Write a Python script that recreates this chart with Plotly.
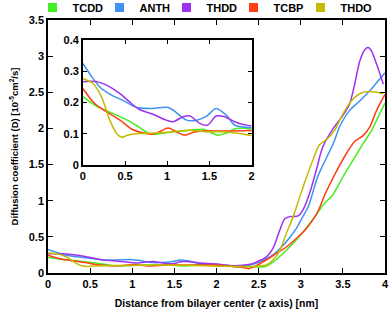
import plotly.graph_objects as go

names = ["TCDD", "ANTH", "THDD", "TCBP", "THDO"]
colors = ["#44ee22", "#3f93f0", "#9d33ee", "#ff3e14", "#c4bb00"]

tcdd_x = [0, 0.16, 0.36, 0.55, 0.67, 0.79, 0.87, 1.07, 1.27, 1.43, 1.50, 1.60, 1.70, 1.82, 2.0, 2.2, 2.4, 2.58, 2.67, 2.79, 2.91, 3.03, 3.15, 3.28, 3.38, 3.50, 3.62, 3.74, 3.84, 3.92, 4.0]
tcdd_y = [0.219, 0.189, 0.165, 0.141, 0.121, 0.101, 0.099, 0.107, 0.112, 0.115, 0.107, 0.096, 0.103, 0.117, 0.115, 0.09, 0.085, 0.09, 0.15, 0.27, 0.41, 0.57, 0.75, 0.96, 1.08, 1.33, 1.56, 1.79, 1.97, 2.16, 2.35]

anth_x = [0, 0.1, 0.2, 0.34, 0.47, 0.63, 0.79, 1.0, 1.07, 1.23, 1.35, 1.46, 1.58, 1.70, 1.80, 1.90, 2.0, 2.2, 2.4, 2.51, 2.67, 2.79, 2.87, 2.95, 3.01, 3.09, 3.2, 3.3, 3.4, 3.46, 3.58, 3.70, 3.82, 3.92, 4.0]
anth_y = [0.325, 0.285, 0.25, 0.224, 0.208, 0.185, 0.181, 0.185, 0.176, 0.144, 0.144, 0.155, 0.181, 0.16, 0.128, 0.122, 0.12, 0.10, 0.11, 0.15, 0.25, 0.38, 0.49, 0.62, 0.75, 0.92, 1.33, 1.58, 1.83, 2.02, 2.25, 2.38, 2.52, 2.66, 2.77]

thdd_x = [0, 0.16, 0.28, 0.44, 0.55, 0.67, 0.83, 0.99, 1.07, 1.19, 1.27, 1.39, 1.48, 1.58, 1.68, 1.80, 1.90, 2.0, 2.2, 2.4, 2.47, 2.59, 2.67, 2.75, 2.81, 2.87, 2.97, 3.03, 3.11, 3.19, 3.26, 3.38, 3.50, 3.58, 3.64, 3.70, 3.76, 3.80, 3.84, 3.90, 3.98]
thdd_y = [0.267, 0.267, 0.256, 0.229, 0.203, 0.178, 0.163, 0.144, 0.139, 0.155, 0.157, 0.133, 0.128, 0.157, 0.155, 0.139, 0.13, 0.125, 0.10, 0.12, 0.15, 0.22, 0.34, 0.59, 0.75, 0.78, 0.79, 0.88, 1.12, 1.45, 1.74, 1.99, 2.18, 2.34, 2.61, 2.93, 3.09, 3.12, 3.07, 2.89, 2.61]

tcbp_x = [0, 0.14, 0.28, 0.44, 0.59, 0.75, 0.83, 0.91, 1.01, 1.11, 1.21, 1.31, 1.46, 1.66, 1.86, 2.0, 2.2, 2.3, 2.38, 2.45, 2.59, 2.71, 2.83, 2.95, 3.07, 3.19, 3.30, 3.42, 3.54, 3.64, 3.74, 3.82, 3.90, 4.0]
tcbp_y = [0.245, 0.197, 0.171, 0.144, 0.114, 0.101, 0.099, 0.107, 0.119, 0.107, 0.096, 0.105, 0.11, 0.109, 0.11, 0.11, 0.09, 0.08, 0.06, 0.09, 0.18, 0.27, 0.36, 0.48, 0.62, 0.82, 1.12, 1.40, 1.65, 1.82, 1.90, 2.02, 2.25, 2.47]

thdo_x = [0, 0.12, 0.22, 0.32, 0.40, 0.46, 0.53, 0.67, 0.87, 1.07, 1.27, 1.46, 1.66, 1.86, 2.0, 2.2, 2.4, 2.59, 2.67, 2.75, 2.83, 2.91, 2.99, 3.07, 3.15, 3.22, 3.32, 3.40, 3.50, 3.60, 3.70, 3.80, 3.90, 3.98]
thdo_y = [0.277, 0.261, 0.219, 0.144, 0.101, 0.089, 0.096, 0.101, 0.103, 0.107, 0.112, 0.107, 0.107, 0.101, 0.095, 0.09, 0.09, 0.11, 0.18, 0.31, 0.55, 0.78, 1.06, 1.33, 1.58, 1.77, 1.86, 1.97, 2.20, 2.38, 2.48, 2.51, 2.50, 2.48]

xs = [tcdd_x, anth_x, thdd_x, tcbp_x, thdo_x]
ys = [tcdd_y, anth_y, thdd_y, tcbp_y, thdo_y]

main_xticks = [0, 0.5, 1, 1.5, 2, 2.5, 3, 3.5, 4]
main_yticks = [0, 0.5, 1, 1.5, 2, 2.5, 3, 3.5]
inset_xticks = [0, 0.5, 1, 1.5, 2]
inset_yticks = [0, 0.1, 0.2, 0.3, 0.4]

FONT = "Liberation Sans"
fig = go.Figure()

for n, c, x, y in zip(names, colors, xs, ys):
    fig.add_trace(go.Scatter(x=x, y=y, mode="lines", line=dict(color=c, width=1.5, shape="spline", smoothing=0.8),
                             showlegend=False, xaxis="x", yaxis="y"))
for n, c, x, y in zip(names, colors, xs, ys):
    fig.add_trace(go.Scatter(x=x, y=y, mode="lines", line=dict(color=c, width=1.5, shape="spline", smoothing=0.8),
                             showlegend=False, xaxis="x2", yaxis="y2"))
for i, (n, c) in enumerate(zip(names, colors)):
    fig.add_trace(go.Scatter(x=[None], y=[None], mode="markers", name=n,
                             legendwidth=(40 if i == len(names) - 1 else None),
                             marker=dict(symbol="square", size=9, color=c), xaxis="x", yaxis="y"))

axstyle = dict(showline=True, linecolor="black", linewidth=1.5, mirror="ticks", ticks="inside",
               tickcolor="black", tickwidth=1.2, showgrid=False, zeroline=False, automargin=False,
               tickfont=dict(family=FONT, size=11, color="black", weight="bold"))

fig.update_layout(
    width=390, height=309,
    margin=dict(l=48, r=5, t=20, b=36, autoexpand=False),
    paper_bgcolor="white", plot_bgcolor="white",
    font=dict(family=FONT, color="black"),
    xaxis=dict(range=[0, 4], tickvals=main_xticks, ticktext=[f"{v:g}" for v in main_xticks], ticklen=5,
               title=dict(text="Distance from bilayer center (z axis) [nm]", standoff=12,
                          font=dict(family=FONT, size=10.4, color="black", weight="bold")), **axstyle),
    yaxis=dict(range=[0, 3.5], tickvals=main_yticks, ticktext=[f"{v:g}" for v in main_yticks], ticklen=5,
               title=dict(text="Diffusion coefficient (D) [10<sup>-5</sup>cm<sup>2</sup>/s]", standoff=8,
                          font=dict(family=FONT, size=9.5, color="black", weight="bold")), **axstyle),
    xaxis2=dict(domain=[0.1034, 0.6039], anchor="y2", range=[0, 2], tickvals=inset_xticks,
                ticktext=[f"{v:g}" for v in inset_xticks], ticklen=4, **axstyle),
    yaxis2=dict(domain=[0.426, 0.921], anchor="x2", range=[0, 0.4], tickvals=inset_yticks,
                ticktext=[f"{v:g}" for v in inset_yticks], ticklen=4, **axstyle),
    legend=dict(orientation="h", x=-0.046, xanchor="left", y=1.049, yanchor="middle",
                entrywidth=22, entrywidthmode="pixels", itemwidth=30,
                font=dict(family=FONT, size=11, color="black", weight="bold"),
                bgcolor="rgba(0,0,0,0)", tracegroupgap=0),
)

fig.write_html("out.html", config={"displayModeBar": False},
               post_script="document.body.style.margin='0';document.body.style.padding='0';")
